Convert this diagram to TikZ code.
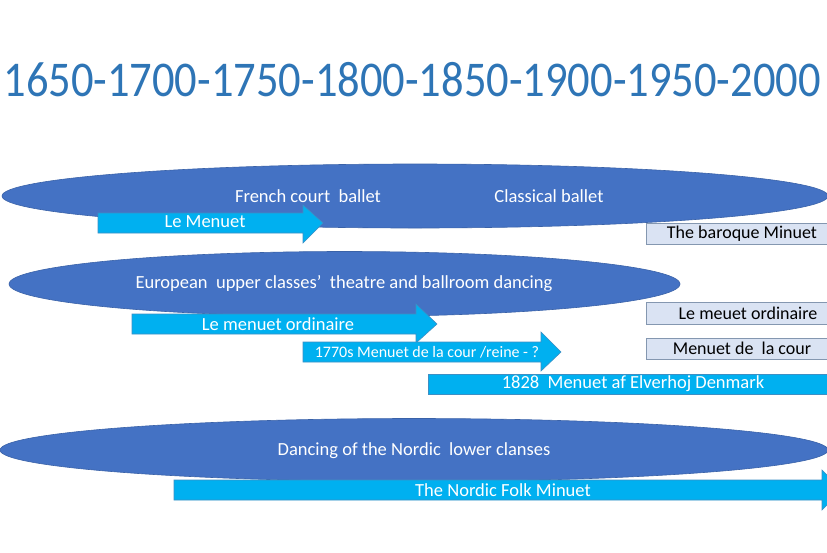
\documentclass[tikz,border=0pt]{standalone}
\usepackage{fontspec}
\setmainfont{Carlito}
\definecolor{ellfill}{HTML}{4472C4}
\definecolor{elldraw}{HTML}{3A62A8}
\definecolor{arrfill}{HTML}{00B0F0}
\definecolor{arrdraw}{HTML}{3D8FC4}
\definecolor{boxfill}{HTML}{DAE3F3}
\definecolor{boxdraw}{HTML}{8497B0}
\definecolor{titleblue}{HTML}{2E75B6}
\begin{document}
\begin{tikzpicture}[x=1pt,y=-1pt,
  ellshape/.style={fill=ellfill,draw=elldraw,line width=0.6pt},
  arrshape/.style={fill=arrfill,draw=arrdraw,line width=0.6pt},
  boxshape/.style={fill=boxfill,draw=boxdraw,line width=0.8pt},
  wtext/.style={text=white,inner sep=0pt,font=\fontsize{18.5}{20}\selectfont},
  stext/.style={text=white,inner sep=0pt,font=\fontsize{16}{18}\selectfont},
  btext/.style={text=black,inner sep=0pt,font=\fontsize{18}{20}\selectfont},
  titletext/.style={text=titleblue,inner sep=0pt,font=\fontsize{50}{55}\selectfont}]
\useasboundingbox (0,0) rectangle (827,552);
\fill[white] (0,0) rectangle (827,552);
\clip (0,0) rectangle (827,552);

\node[titletext] (title) at (412,80) {\scalebox{0.89}[1]{1650-1700-1750-1800-1850-1900-1950-2000}};

% ellipses
\draw[ellshape] (415,196) ellipse [x radius=413, y radius=32];
\draw[ellshape] (344.5,284) ellipse [x radius=335.5, y radius=32.5];
\draw[ellshape] (414,450) ellipse [x radius=414, y radius=31.5];

\node[wtext] (french) at (308,196) {French court~~ballet};
\node[wtext] (classical) at (549,196) {Classical ballet};
\node[wtext] (european) at (344,284) {European~~upper classes’~~theatre and ballroom dancing};
\node[wtext] (nordic) at (414,451) {Dancing of the Nordic~~lower clanses};

% arrows
\draw[arrshape] (98,213) -- (303,213) -- (303,205) -- (323,223) -- (303,243) -- (303,233) -- (98,233) -- cycle;
\node[wtext] (lemenuet) at (205,222) {Le Menuet};

\draw[arrshape] (132,314) -- (416,314) -- (416,304) -- (437,324) -- (416,343) -- (416,334) -- (132,334) -- cycle;
\node[wtext] (ordinaire) at (278,324) {Le menuet ordinaire};

\draw[arrshape] (303,342) -- (541,342) -- (541,332) -- (561,352) -- (541,371) -- (541,362) -- (303,362) -- cycle;
\node[stext] (cour) at (427,352) {1770s Menuet~de la cour /reine - ?};

\draw[arrshape] (428,374) -- (840,374) -- (840,394) -- (428,394) -- cycle;
\node[wtext] (elverhoj) at (633,384) {1828~~Menuet af Elverhoj Denmark};

\draw[arrshape] (174,480) -- (822,480) -- (822,470) -- (842,490) -- (822,510) -- (822,500) -- (174,500) -- cycle;
\node[wtext] (folk) at (503,490) {The Nordic Folk Minuet};

% boxes
\draw[boxshape] (646,223) rectangle (840,244);
\node[btext] (baroque) at (742,233.5) {The baroque Minuet};
\draw[boxshape] (646,302) rectangle (840,324);
\node[btext] (meuet) at (748,313) {Le meuet ordinaire};
\draw[boxshape] (646,338) rectangle (840,359);
\node[btext] (delacour) at (742,348.5) {Menuet de~~la cour};
\end{tikzpicture}
\end{document}
